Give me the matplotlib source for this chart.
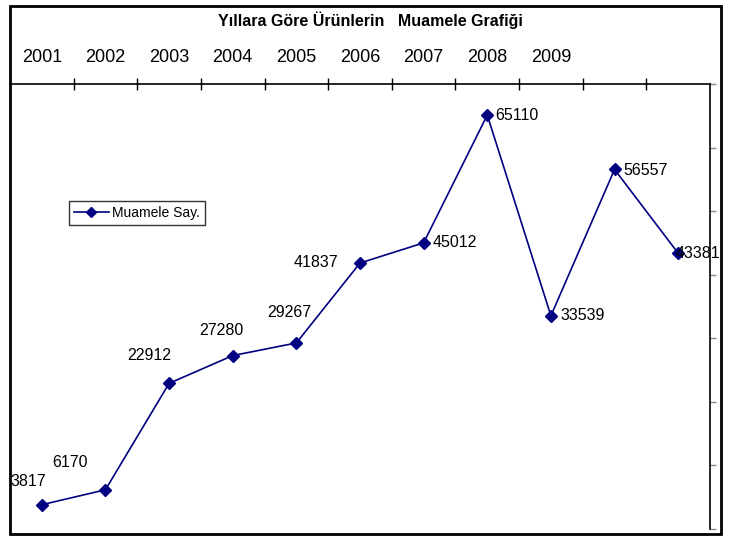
import matplotlib
matplotlib.use('Agg')
import matplotlib.pyplot as plt
from matplotlib.patches import Rectangle

plt.rcParams['font.family'] = ['Liberation Sans', 'DejaVu Sans']

# Veriler
yillar = ['2001', '2002', '2003', '2004', '2005', '2006', '2007', '2008', '2009']
muamele = [3817, 6170, 22912, 27280, 29267, 41837, 45012, 65110, 33539, 56557, 43381]
# etiket kaydirmalari (piksel, x saga / y yukari)
etiket_ofset = [(-14, 23), (-35, 27), (-20, 28), (-11, 25), (-7, 30),
                (-44, 1), (31, 0), (30, 0), (32, 0), (31, -1), (20, 0)]

W, H = 730, 536
fig = plt.figure(figsize=(W / 100, H / 100), dpi=100)
ax = fig.add_axes([10 / W, 1 - 529 / H, 700 / W, 445 / H])

x = list(range(len(muamele)))
ax.plot(x, muamele, color='#000080', lw=1.2, marker='D', markersize=6,
        label='Muamele Say.')

for xi, yi, (dx, dy) in zip(x, muamele, etiket_ofset):
    ax.annotate(str(yi), (xi, yi), xytext=(dx * 0.72, dy * 0.72),
                textcoords='offset points', ha='center', va='center',
                fontsize=11.5, color='black')

ax.set_xlim(-0.5, len(muamele) - 0.5)
ax.set_ylim(0, 70000)

# ust eksen
ax.xaxis.tick_top()
ax.set_xticks([i + 0.5 for i in range(len(muamele) - 1)])
ax.set_xticklabels([])
ax.set_xticks(range(len(yillar)), minor=True)
ax.set_xticklabels(yillar, minor=True, fontsize=13)
ax.tick_params(axis='x', which='major', direction='inout', length=8, width=1)
ax.tick_params(axis='x', which='minor', length=0, pad=13)

# sag eksen
ax.yaxis.tick_right()
ax.set_yticks(range(0, 70001, 10000))
ax.set_yticklabels([])
ax.tick_params(axis='y', direction='out', length=4, width=1, color='#888888')

ax.spines['left'].set_visible(False)
ax.spines['bottom'].set_visible(False)
ax.spines['top'].set_linewidth(1.2)
ax.spines['right'].set_linewidth(1.2)

leg = ax.legend(loc='upper left', bbox_to_anchor=(69 / W, 1 - 201 / H),
                bbox_transform=fig.transFigure, fontsize=10, frameon=True,
                fancybox=False, handlelength=2.5, borderpad=0.35,
                borderaxespad=0, handletextpad=0.25, markerscale=0.85)
leg.get_frame().set_edgecolor('black')
leg.get_frame().set_linewidth(1.0)

fig.text(370 / W, 1 - 20 / H, 'Yıllara Göre Ürünlerin   Muamele Grafiği',
         ha='center', va='center', fontsize=11.5, fontweight='bold')

# dis cerceve
fig.patches.append(Rectangle((9.5 / W, 2 / H), 711 / W, 528 / H,
                             transform=fig.transFigure, fill=False,
                             edgecolor='black', linewidth=2))

fig.savefig('out.png', dpi=100)
